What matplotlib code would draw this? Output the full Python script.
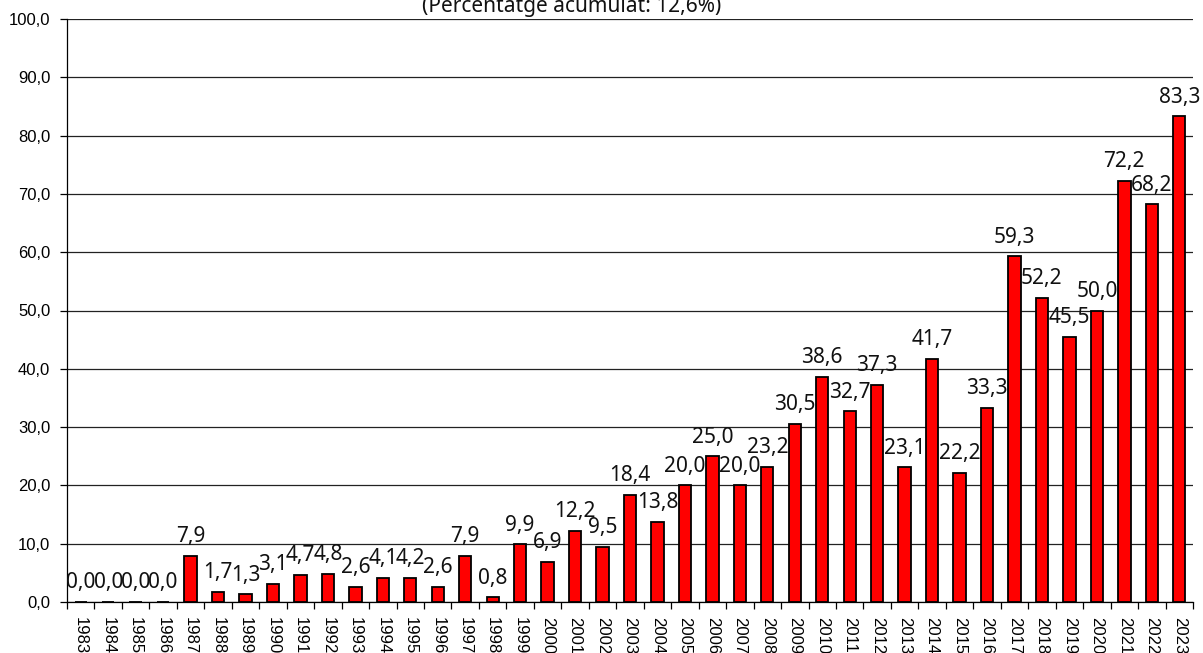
import matplotlib
matplotlib.use("Agg")
import matplotlib.pyplot as plt
import numpy as np

years = [str(y) for y in range(1983, 2024)]
values = [0.0, 0.0, 0.0, 0.0, 7.9, 1.7, 1.3, 3.1, 4.7, 4.8, 2.6, 4.1, 4.2, 2.6,
          7.9, 0.8, 9.9, 6.9, 12.2, 9.5, 18.4, 13.8, 20.0, 25.0, 20.0, 23.2,
          30.5, 38.6, 32.7, 37.3, 23.1, 41.7, 22.2, 33.3, 59.3, 52.2, 45.5,
          50.0, 72.2, 68.2, 83.3]
yticks = [0, 10, 20, 30, 40, 50, 60, 70, 80, 90, 100]
title_text = "(Percentatge acumulat: 12,6%)"

W, H = 1203, 653
fig = plt.figure(figsize=(W / 100, H / 100), dpi=100)
ax = fig.add_axes([67 / W, (H - 602) / H, (1193 - 67) / W, (602 - 19) / H])

x = np.arange(len(years))
ax.set_axisbelow(True)
ax.bar(x, values, width=0.45, color="#ff0000", edgecolor="black", linewidth=1.3, zorder=3)

for xi, v in zip(x, values):
    ax.annotate(f"{v:.1f}".replace(".", ","), (xi, v), xytext=(0, 9.9),
                textcoords="offset points", ha="center", va="baseline",
                fontsize=15, family="Noto Sans", color="#111111", zorder=4)

ax.set_xlim(-0.5, len(years) - 0.5)
ax.set_ylim(0, 100)
ax.set_yticks(yticks)
ax.set_yticklabels([f"{t:.1f}".replace(".", ",") for t in yticks],
                   fontsize=12, family="Liberation Sans")
ax.yaxis.grid(True, color="#222222", linewidth=0.9)
ax.tick_params(axis="y", length=5, width=0.9, pad=7)

ax.set_xticks(x)
ax.set_xticklabels(years, rotation=-90, fontsize=12, family="Liberation Sans")
ax.tick_params(axis="x", which="major", length=0, pad=11)
ax.set_xticks(np.arange(-0.5, len(years)), minor=True)
ax.tick_params(axis="x", which="minor", length=5, width=0.9)

for s in ["top", "right"]:
    ax.spines[s].set_visible(False)
ax.spines["left"].set_linewidth(0.9)
ax.spines["bottom"].set_linewidth(0.9)

fig.text(572 / W, (H - 12) / H, title_text, ha="center", va="baseline",
         fontsize=15, family="Noto Sans", color="#111111")

fig.savefig("out.png", dpi=100)
